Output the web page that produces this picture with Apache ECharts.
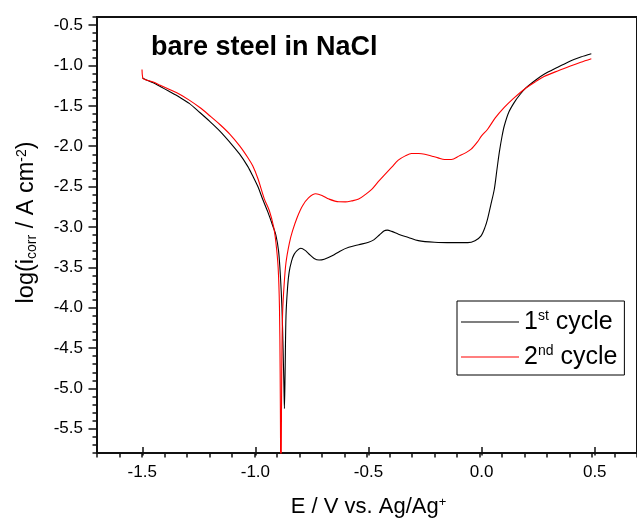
<!DOCTYPE html>
<html>
<head>
<meta charset="utf-8">
<script src="https://cdn.jsdelivr.net/npm/echarts@6/dist/echarts.min.js"></script>
<style>html,body{margin:0;padding:0;background:#fff}#c{width:637px;height:523px}</style>
</head>
<body>
<div id="c"></div>
<script>
const seriesNames = ['1st cycle', '2nd cycle'];
const xTickLabels = [-1.5, -1.0, -0.5, 0.0, 0.5];
const yTickLabels = [-5.5, -5.0, -4.5, -4.0, -3.5, -3.0, -2.5, -2.0, -1.5, -1.0, -0.5];

const cycle1E = [-1.498,-1.48,-1.45,-1.419,-1.38,-1.331,-1.29,-1.243,-1.20,-1.155,-1.11,-1.066,-1.03,-1.008,-0.985,-0.964,-0.94,-0.919,-0.905,-0.893,-0.885,-0.878,-0.873,-0.869,-0.867,-0.864,-0.860,-0.853,-0.846,-0.835,-0.824,-0.810,-0.794,-0.775,-0.758,-0.735,-0.713,-0.69,-0.655,-0.62,-0.581,-0.537,-0.493,-0.470,-0.445,-0.425,-0.41,-0.39,-0.36,-0.316,-0.272,-0.20,-0.12,-0.052,-0.02,0.007,0.025,0.036,0.050,0.066,0.078,0.088,0.100,0.110,0.130,0.154,0.18,0.205,0.25,0.287,0.35,0.404,0.45,0.497];
const cycle1Log = [-1.155,-1.18,-1.215,-1.261,-1.32,-1.397,-1.47,-1.583,-1.69,-1.810,-1.95,-2.099,-2.25,-2.367,-2.50,-2.655,-2.82,-2.985,-3.10,-3.30,-3.60,-4.00,-4.50,-5.00,-5.25,-4.80,-4.10,-3.75,-3.56,-3.42,-3.34,-3.29,-3.265,-3.29,-3.335,-3.39,-3.41,-3.40,-3.357,-3.30,-3.253,-3.22,-3.19,-3.16,-3.10,-3.05,-3.04,-3.055,-3.09,-3.13,-3.17,-3.19,-3.195,-3.195,-3.17,-3.11,-3.00,-2.90,-2.73,-2.53,-2.28,-2.077,-1.88,-1.75,-1.58,-1.46,-1.36,-1.282,-1.18,-1.109,-1.02,-0.945,-0.895,-0.855];

const cycle2E = [-1.500,-1.497,-1.49,-1.45,-1.419,-1.38,-1.331,-1.29,-1.243,-1.20,-1.155,-1.11,-1.066,-1.03,-1.008,-0.985,-0.956,-0.934,-0.915,-0.905,-0.895,-0.889,-0.886,-0.884,-0.883,-0.881,-0.879,-0.875,-0.868,-0.860,-0.845,-0.831,-0.81,-0.787,-0.76,-0.728,-0.70,-0.669,-0.625,-0.596,-0.567,-0.537,-0.508,-0.478,-0.45,-0.419,-0.39,-0.361,-0.33,-0.302,-0.27,-0.243,-0.21,-0.184,-0.155,-0.125,-0.09,-0.06,-0.037,-0.01,0.010,0.036,0.07,0.110,0.15,0.205,0.25,0.287,0.35,0.404,0.45,0.497];
const cycle2Log = [-1.05,-1.15,-1.17,-1.205,-1.245,-1.295,-1.36,-1.43,-1.521,-1.62,-1.728,-1.85,-1.996,-2.14,-2.243,-2.40,-2.655,-2.80,-3.00,-3.19,-3.50,-4.00,-4.80,-5.80,-6.50,-5.80,-4.80,-4.06,-3.70,-3.44,-3.20,-3.05,-2.88,-2.74,-2.64,-2.59,-2.61,-2.655,-2.689,-2.69,-2.677,-2.655,-2.60,-2.532,-2.44,-2.346,-2.26,-2.173,-2.12,-2.09,-2.09,-2.099,-2.125,-2.145,-2.165,-2.165,-2.12,-2.08,-2.037,-1.95,-1.87,-1.79,-1.65,-1.52,-1.41,-1.282,-1.20,-1.138,-1.065,-1.007,-0.96,-0.916];

const pairs = (xs, ys) => xs.map((x, i) => [x, ys[i]]);
const fmt = (v) => (Math.abs(v) < 1e-9 ? 0 : v).toFixed(1);

const FONT = 'Liberation Sans';
const AX = '#111';
// data grid: x -1.7..0.7, y -5.8..-0.4
const G = {left: 97, right: -3, top: 17, bottom: 70};
const W = 637, H = 523;
const xMin = -1.7, xMax = 0.7, yMin = -5.8, yMax = -0.4;
const pxX = (W - G.left - G.right) / (xMax - xMin);
const pxY = (H - G.top - G.bottom) / (yMax - yMin);
const xMaj0 = xTickLabels[0], xMaj1 = xTickLabels[xTickLabels.length - 1];
const yMaj0 = yTickLabels[0], yMaj1 = yTickLabels[yTickLabels.length - 1];
// grid for major x ticks: same vertical extent, horizontal span first..last labelled tick
const GX = {left: G.left + (xMaj0 - xMin) * pxX, right: G.right + (xMax - xMaj1) * pxX, top: G.top, bottom: G.bottom};
// grid for major y ticks: same horizontal extent, vertical span first..last labelled tick
const GY = {left: G.left, right: G.right, top: G.top + (yMax - yMaj1) * pxY, bottom: G.bottom + (yMaj0 - yMin) * pxY};

const hiddenAxis = (gi, extra) => Object.assign({
  gridIndex: gi, type: 'value', show: false,
  axisLine: {show: false, onZero: false}, axisTick: {show: false}, axisLabel: {show: false}, splitLine: {show: false}
}, extra);

const chart = echarts.init(document.getElementById('c'), null, {renderer: 'canvas'});
chart.setOption({
  animation: false,
  textStyle: {fontFamily: FONT, color: '#000'},
  title: {
    text: 'bare steel in NaCl', left: 151, top: 34, padding: 0,
    textStyle: {fontFamily: FONT, fontSize: 27, fontWeight: 'bold', color: '#000'}
  },
  grid: [
    {left: G.left, right: G.right, top: G.top, bottom: G.bottom, show: true, borderColor: AX, borderWidth: 2, backgroundColor: 'transparent'},
    {left: GX.left, right: GX.right, top: GX.top, bottom: GX.bottom, show: false},
    {left: GY.left, right: GY.right, top: GY.top, bottom: GY.bottom, show: false}
  ],
  legend: {
    orient: 'vertical', left: 457, top: 301, padding: [8, 7, 5, 4], itemGap: 9,
    itemWidth: 58, itemHeight: 1.2, icon: 'rect',
    borderColor: '#000', borderWidth: 1, borderRadius: 0,
    data: seriesNames,
    formatter: (n) => n === seriesNames[0] ? '{n|1}{s|st}{n| cycle}' : '{n|2}{s|nd}{n| cycle}',
    textStyle: {
      fontFamily: FONT, fontSize: 25, lineHeight: 26, color: '#000',
      rich: {
        n: {fontFamily: FONT, fontSize: 25, lineHeight: 26, color: '#000'},
        s: {fontFamily: FONT, fontSize: 14, lineHeight: 14, verticalAlign: 'top', color: '#000'}
      }
    }
  },
  xAxis: [
    {
      gridIndex: 0, type: 'value', min: xMin, max: xMax, interval: 0.1, position: 'bottom',
      axisLine: {show: true, onZero: false, lineStyle: {color: AX, width: 2}},
      axisTick: {show: true, inside: false, length: 4.5, lineStyle: {color: AX, width: 1.5}},
      axisLabel: {show: false}, splitLine: {show: false}
    },
    {
      gridIndex: 1, type: 'value', min: xMaj0, max: xMaj1, interval: 0.5, position: 'bottom',
      axisLine: {show: false, onZero: false},
      axisTick: {show: true, inside: false, length: 8.5, lineStyle: {color: AX, width: 1.5}},
      axisLabel: {fontFamily: FONT, fontSize: 17, color: '#000', margin: 17, formatter: fmt, showMinLabel: true, showMaxLabel: true},
      splitLine: {show: false},
      name: 'E / V vs. Ag/Ag{sup|+}', nameLocation: 'middle', nameGap: 49,
      nameTextStyle: {fontFamily: FONT, fontSize: 22, color: '#000',
        rich: {sup: {fontFamily: FONT, fontSize: 13, verticalAlign: 'top', lineHeight: 13, color: '#000'}}}
    },
    hiddenAxis(2, {min: xMin, max: xMax})
  ],
  yAxis: [
    {
      gridIndex: 0, type: 'value', min: yMin, max: yMax, interval: 0.1, position: 'left',
      axisLine: {show: true, onZero: false, lineStyle: {color: AX, width: 2}},
      axisTick: {show: true, inside: false, length: 4.5, lineStyle: {color: AX, width: 1.5}},
      axisLabel: {show: false}, splitLine: {show: false}
    },
    hiddenAxis(1, {min: yMin, max: yMax}),
    {
      gridIndex: 2, type: 'value', min: yMaj0, max: yMaj1, interval: 0.5, position: 'left',
      axisLine: {show: false, onZero: false},
      axisTick: {show: true, inside: false, length: 8.5, lineStyle: {color: AX, width: 1.5}},
      axisLabel: {fontFamily: FONT, fontSize: 17, color: '#000', margin: 14, formatter: fmt, showMinLabel: true, showMaxLabel: true},
      splitLine: {show: false},
      name: 'log(i{sub|corr} / A cm{sup|-2})', nameLocation: 'middle', nameGap: 58, nameRotate: 90,
      nameTextStyle: {fontFamily: FONT, fontSize: 23.5, color: '#000', padding: [0, 0, 0, 9],
        rich: {
          sub: {fontFamily: FONT, fontSize: 14, verticalAlign: 'bottom', lineHeight: 14, color: '#000'},
          sup: {fontFamily: FONT, fontSize: 14, verticalAlign: 'top', lineHeight: 14, color: '#000'}
        }}
    }
  ],
  series: [
    {
      name: seriesNames[0], type: 'line', xAxisIndex: 0, yAxisIndex: 0,
      data: pairs(cycle1E, cycle1Log), symbol: 'none', showSymbol: false,
      smooth: 0.3, clip: true,
      color: '#000', lineStyle: {color: '#000', width: 1.1}, itemStyle: {color: '#000'}
    },
    {
      name: seriesNames[1], type: 'line', xAxisIndex: 0, yAxisIndex: 0,
      data: pairs(cycle2E, cycle2Log), symbol: 'none', showSymbol: false,
      smooth: 0.3, clip: true,
      color: '#ff0000', lineStyle: {color: '#ff0000', width: 1.1}, itemStyle: {color: '#ff0000'}
    }
  ]
});
</script>
</body>
</html>
